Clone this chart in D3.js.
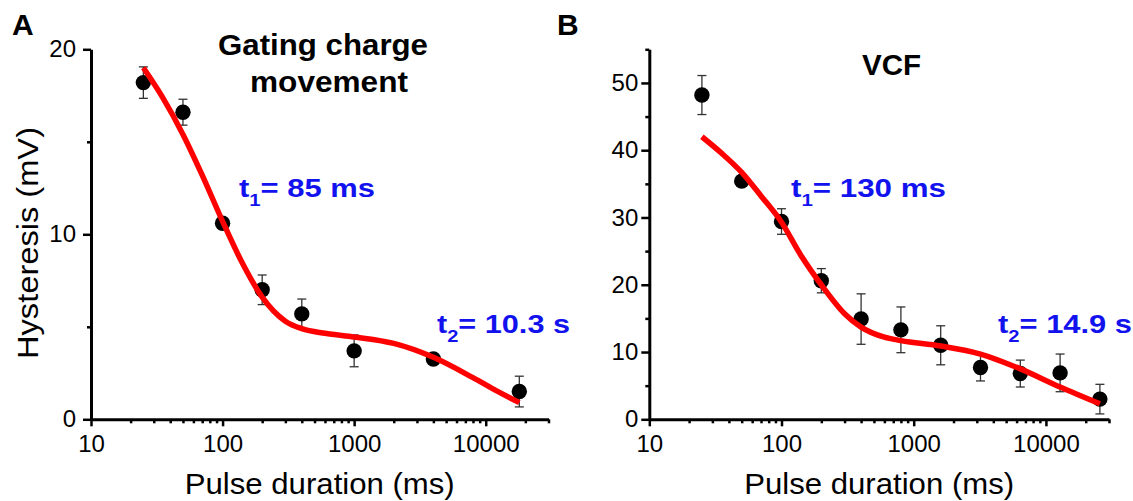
<!DOCTYPE html>
<html>
<head>
<meta charset="utf-8">
<script src="https://cdn.jsdelivr.net/npm/d3@7"></script>
<style>
    body { margin: 0; background: #fff; }
    svg { display: block; font-family: "Liberation Sans", Arial, sans-serif; }
</style>
</head>
<body>
<div id="chart"></div>
<script>
// Panel A: gating charge movement
const durationsA = [25, 50, 100, 200, 400, 1000, 4000, 18000];
const hystA = [18.2, 16.6, 10.6, 7.0, 5.7, 3.7, 3.26, 1.5];
const errA = [0.85, 0.7, 0.3, 0.8, 0.8, 0.86, 0.2, 0.83];
const fitTimesA = [25, 35, 50, 70, 100, 140, 200, 300, 400, 600, 1000, 2000, 4000, 8000, 12000, 18000];
const fitA = [19.0, 17.4, 15.4, 13.2, 10.7, 8.5, 6.6, 5.3, 4.9, 4.65, 4.45, 4.1, 3.35, 2.25, 1.55, 0.9];

// Panel B: VCF
const durationsB = [25, 50, 100, 200, 400, 800, 1600, 3200, 6400, 12800, 25600];
const hystB = [48.2, 35.4, 29.4, 20.6, 14.9, 13.3, 11.0, 7.7, 6.8, 6.9, 3.0];
const errB = [2.9, 0.6, 1.9, 1.8, 3.75, 3.4, 2.9, 2.0, 2.0, 2.8, 2.2];
const fitTimesB = [25, 35, 50, 70, 100, 140, 200, 300, 400, 600, 800, 1600, 3200, 6400, 12800, 25600];
const fitB = [42.0, 39.6, 36.7, 33.2, 29.3, 24.4, 20.0, 15.7, 13.7, 12.2, 11.7, 10.9, 9.7, 7.5, 4.8, 2.3];

const xTicks = [10, 100, 1000, 10000];
const xMinor = [20, 30, 40, 50, 60, 70, 80, 90, 200, 300, 400, 500, 600, 700, 800, 900,
    2000, 3000, 4000, 5000, 6000, 7000, 8000, 9000, 20000, 30000];
const yTicksA = [0, 10, 20];
const yMinorA = [5, 15];
const yTicksB = [0, 10, 20, 30, 40, 50];
const yMinorB = [5, 15, 25, 35, 45, 55];

const width = 1133;
const height = 501;
const blue = "#1212ee";

const svg = d3.select("#chart")
    .append("svg")
    .attr("width", width)
    .attr("height", height);

function drawPanel(p) {
    const x = d3.scaleLog()
        .domain([10, 30000])
        .range([p.left, p.right]);

    const y = d3.scaleLinear()
        .domain([0, p.yMax])
        .range([419.3, 49.3]);

    const g = svg.append("g");

    // minor ticks first, then the main axes on top
    g.append("g")
        .attr("transform", `translate(0,${y(0)})`)
        .call(d3.axisBottom(x).tickValues(xMinor).tickSize(4).tickFormat(""))
        .call(a => a.select(".domain").remove());

    g.append("g")
        .attr("transform", `translate(${x(10)},0)`)
        .call(d3.axisLeft(y).tickValues(p.yMinor).tickSize(4).tickFormat(""))
        .call(a => a.select(".domain").remove());

    g.append("g")
        .attr("transform", `translate(0,${y(0)})`)
        .call(d3.axisBottom(x).tickValues(xTicks).tickFormat(d3.format("d"))
            .tickSize(7).tickSizeOuter(0).tickPadding(9));

    g.append("g")
        .attr("transform", `translate(${x(10)},0)`)
        .call(d3.axisLeft(y).tickValues(p.yTicks).tickSize(8).tickSizeOuter(0).tickPadding(p.yPad));

    g.selectAll(".domain").attr("stroke-width", 3).attr("stroke", "#000");
    g.selectAll(".tick line").attr("stroke-width", 2.5).attr("stroke", "#000");
    g.selectAll(".tick text")
        .attr("fill", "#000")
        .style("font-size", "24px");

    // error bars
    const bars = g.selectAll(".err")
        .data(p.durations)
        .enter().append("g")
        .attr("class", "err")
        .attr("stroke", "#333")
        .attr("stroke-width", 1.3);

    bars.append("line")
        .attr("x1", d => x(d))
        .attr("x2", d => x(d))
        .attr("y1", (d, i) => y(p.values[i] + p.errors[i]))
        .attr("y2", (d, i) => y(p.values[i] - p.errors[i]));
    bars.append("line")
        .attr("x1", d => x(d) - 4.5)
        .attr("x2", d => x(d) + 4.5)
        .attr("y1", (d, i) => y(p.values[i] + p.errors[i]))
        .attr("y2", (d, i) => y(p.values[i] + p.errors[i]));
    bars.append("line")
        .attr("x1", d => x(d) - 4.5)
        .attr("x2", d => x(d) + 4.5)
        .attr("y1", (d, i) => y(p.values[i] - p.errors[i]))
        .attr("y2", (d, i) => y(p.values[i] - p.errors[i]));

    // data points
    g.selectAll("circle")
        .data(p.durations)
        .enter().append("circle")
        .attr("cx", d => x(d))
        .attr("cy", (d, i) => y(p.values[i]))
        .attr("r", 7.7)
        .attr("fill", "#000");

    // fitted curve
    const line = d3.line()
        .x((d, i) => x(p.fitTimes[i]))
        .y(d => y(d))
        .curve(d3.curveMonotoneX);

    g.append("path")
        .datum(p.fit)
        .attr("fill", "none")
        .attr("stroke", "#ff0000")
        .attr("stroke-width", 5.5)
        .attr("d", line);

    // x axis title (the figure's type is a little wide, so stretch it)
    g.append("text")
        .attr("x", (p.left + p.right) / 2 - 135)
        .attr("y", 494)
        .attr("textLength", 270)
        .attr("lengthAdjust", "spacingAndGlyphs")
        .style("font-size", "30px")
        .text("Pulse duration (ms)");

    // panel letter
    g.append("text")
        .attr("x", p.letterX)
        .attr("y", 35)
        .style("font-size", "30px")
        .style("font-weight", "bold")
        .text(p.letter);

    // time constant labels
    p.taus.forEach(t => {
        const txt = g.append("text")
            .attr("x", t.x)
            .attr("y", t.y)
            .attr("fill", blue)
            .style("font-size", "26px")
            .style("font-weight", "bold")
            .attr("textLength", t.w)
            .attr("lengthAdjust", "spacingAndGlyphs");
        txt.append("tspan").text("t");
        txt.append("tspan").attr("dy", 9).style("font-size", "17px").text(t.sub);
        txt.append("tspan").attr("dy", -9).text("= " + t.label);
    });

    return g;
}

const gA = drawPanel({
    left: 91, right: 548.5, yMax: 20,
    yTicks: yTicksA, yMinor: yMinorA, yPad: 7,
    durations: durationsA, values: hystA, errors: errA,
    fitTimes: fitTimesA, fit: fitA,
    letter: "A", letterX: 12,
    taus: [
        { x: 239, y: 197, w: 136, sub: "1", label: "85 ms" },
        { x: 437, y: 333, w: 133, sub: "2", label: "10.3 s" }
    ]
});

const gB = drawPanel({
    left: 649.3, right: 1109, yMax: 55,
    yTicks: yTicksB, yMinor: yMinorB, yPad: 3,
    durations: durationsB, values: hystB, errors: errB,
    fitTimes: fitTimesB, fit: fitB,
    letter: "B", letterX: 557,
    taus: [
        { x: 791, y: 197, w: 155, sub: "1", label: "130 ms" },
        { x: 998, y: 333, w: 134, sub: "2", label: "14.9 s" }
    ]
});

// panel titles
function title(g, txt, x, y, w) {
    g.append("text")
        .attr("x", x)
        .attr("y", y)
        .attr("textLength", w)
        .attr("lengthAdjust", "spacingAndGlyphs")
        .style("font-size", "29px")
        .style("font-weight", "bold")
        .text(txt);
}
title(gA, "Gating charge", 218, 55, 210);
title(gA, "movement", 250, 92, 158);
title(gB, "VCF", 862, 75, 59);

// y axis title (panel A only)
gA.append("text")
    .attr("transform", "translate(38,243) rotate(-90)")
    .attr("x", -116)
    .attr("textLength", 232)
    .attr("lengthAdjust", "spacingAndGlyphs")
    .style("font-size", "30px")
    .text("Hysteresis (mV)");
</script>
</body>
</html>
